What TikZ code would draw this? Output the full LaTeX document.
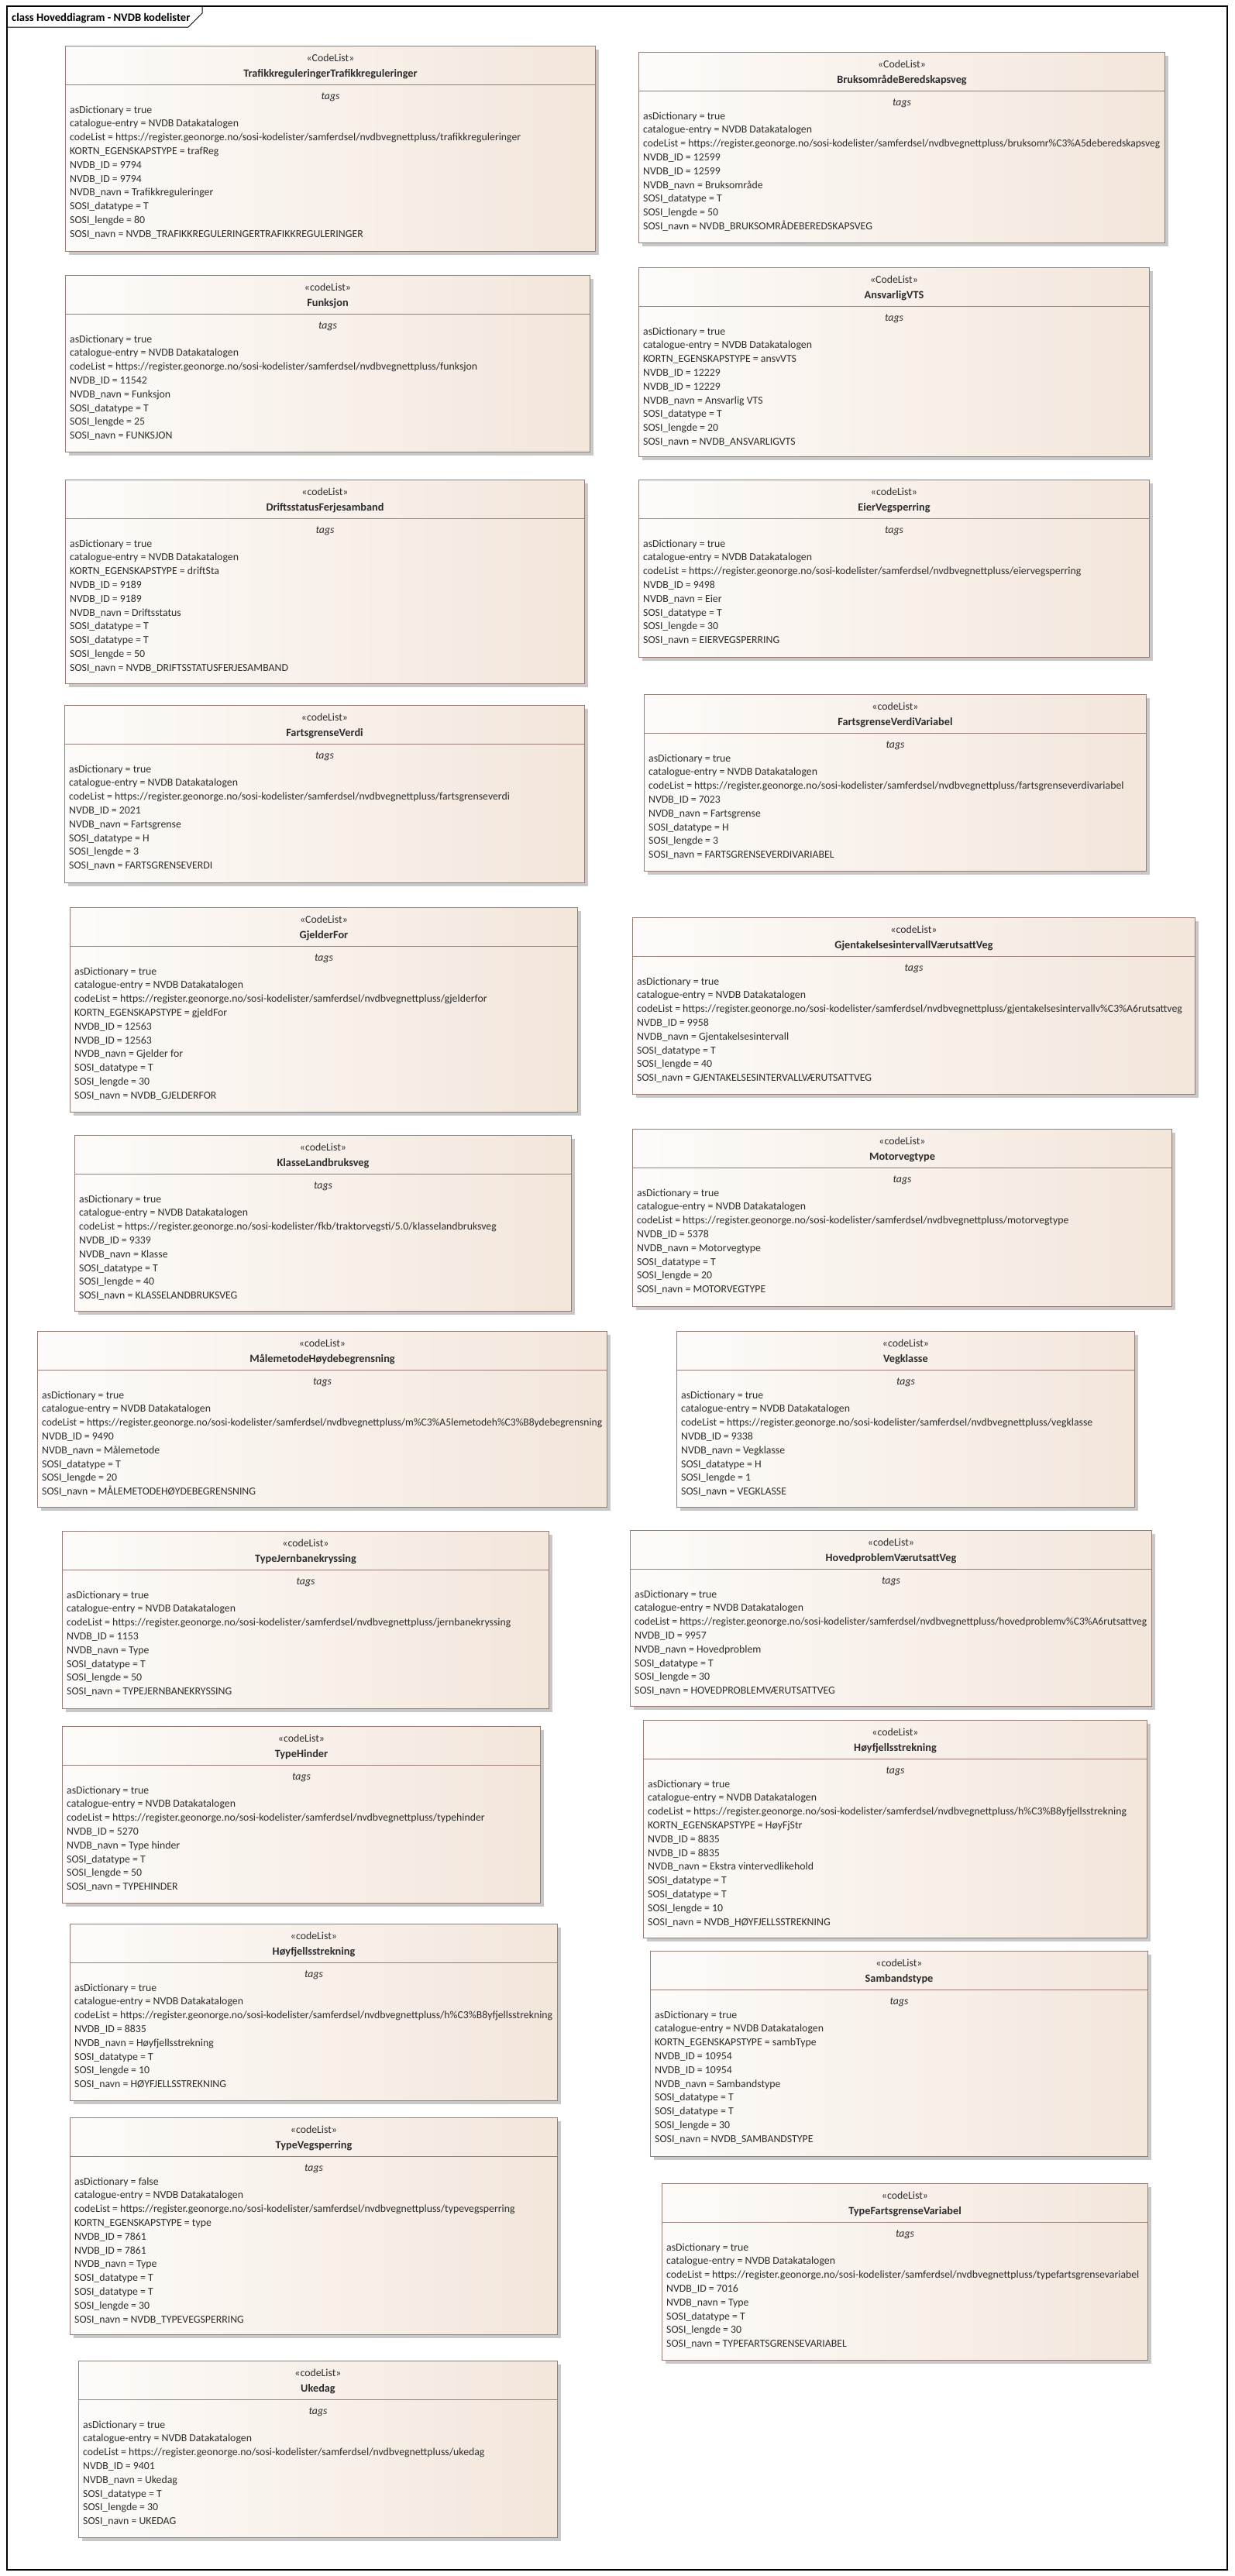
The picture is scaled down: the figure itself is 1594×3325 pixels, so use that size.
\documentclass[tikz,border=0pt]{standalone}
\usepackage{fontspec}
\setmainfont{Carlito}
\usepackage{graphicx}
\usetikzlibrary{shadows,calc}
\definecolor{boxL}{RGB}{253,251,249}
\definecolor{boxR}{RGB}{243,230,219}
\definecolor{boxline}{RGB}{150,125,120}
\definecolor{shadowc}{RGB}{200,200,200}
\definecolor{txt}{RGB}{45,45,45}
\newsavebox\attrbox
\newlength\availw
\newcommand\fitline[1]{\sbox\attrbox{#1}\ifdim\wd\attrbox>\availw\resizebox{\availw}{\height}{\usebox\attrbox}\else\usebox\attrbox\fi}
\tikzset{
 codebox/.style={draw=boxline, line width=1pt, left color=boxL, right color=boxR,
   drop shadow={shadow xshift=4pt, shadow yshift=-4pt, fill=shadowc, opacity=1},
   inner sep=0pt, anchor=north west},
 stereo/.style={anchor=base, inner sep=0pt, text=txt, font=\fontsize{13.8}{16}\selectfont},
 cltitle/.style={anchor=base, inner sep=0pt, text=txt, font=\bfseries\fontsize{14.3}{16}\selectfont},
 tagslabel/.style={anchor=base, inner sep=0pt, text=txt, font=\itshape\fontsize{13.8}{16}\selectfont},
 attr/.style={anchor=base west, inner sep=0pt, text=txt, font=\fontsize{13.8}{16}\selectfont},
 divline/.style={draw=boxline, line width=1pt},
}
\newcommand\codelistbox[8]{%
  \pgfmathsetlength\availw{#3-#2-12}%
  \node[codebox, minimum width={(#3-#2)*1pt}, minimum height={(#5-#4)*1pt}] (#1) at (#2,#4) {};
  \draw[divline] ([yshift=-50pt]#1.north west) -- ([yshift=-50pt]#1.north east);
  \node[stereo] (#1-st) at ([yshift=-20pt]#1.north) {«#6»};
  \node[cltitle] (#1-nm) at ([yshift=-40pt]#1.north) {#7};
  \node[tagslabel] (#1-tg) at ([yshift=-69pt]#1.north) {tags};
  \foreach \attrline [count=\i] in {#8} {
    \node[attr] (#1-l\i) at ([xshift=6pt, yshift={-(87+(\i-1)*17.8)*1pt}]#1.north west) {\fitline{\attrline}};
  }%
}
\begin{document}
\begin{tikzpicture}[x=1pt, y=-1pt]
\useasboundingbox (0,0) rectangle (1594,3325);
\fill[white] (0,0) rectangle (1594,3325);
\draw[line width=1.2pt] (9,8) rectangle (1584,3317);
\draw[line width=1pt] (9,35) -- (243,35) -- (261,17) -- (261,8);
\node[anchor=base west, inner sep=0pt, font=\bfseries\fontsize{14.6}{16}\selectfont] (frametitle) at (15,27) {class Hoveddiagram - NVDB kodelister};

% left column
\codelistbox{tr}{84}{768}{59}{324}{CodeList}{TrafikkreguleringerTrafikkreguleringer}{asDictionary = true, catalogue-entry = NVDB Datakatalogen, codeList = https://register.geonorge.no/sosi-kodelister/samferdsel/nvdbvegnettpluss/trafikkreguleringer, KORTN\_EGENSKAPSTYPE = trafReg, NVDB\_ID = 9794, NVDB\_ID = 9794, NVDB\_navn = Trafikkreguleringer, SOSI\_datatype = T, SOSI\_lengde = 80, SOSI\_navn = NVDB\_TRAFIKKREGULERINGERTRAFIKKREGULERINGER}

\codelistbox{fu}{84}{761}{355}{583}{codeList}{Funksjon}{asDictionary = true, catalogue-entry = NVDB Datakatalogen, codeList = https://register.geonorge.no/sosi-kodelister/samferdsel/nvdbvegnettpluss/funksjon, NVDB\_ID = 11542, NVDB\_navn = Funksjon, SOSI\_datatype = T, SOSI\_lengde = 25, SOSI\_navn = FUNKSJON}

\codelistbox{dr}{84}{754}{619}{882}{codeList}{DriftsstatusFerjesamband}{asDictionary = true, catalogue-entry = NVDB Datakatalogen, KORTN\_EGENSKAPSTYPE = driftSta, NVDB\_ID = 9189, NVDB\_ID = 9189, NVDB\_navn = Driftsstatus, SOSI\_datatype = T, SOSI\_datatype = T, SOSI\_lengde = 50, SOSI\_navn = NVDB\_DRIFTSSTATUSFERJESAMBAND}

\codelistbox{fv}{83}{754}{910}{1139}{codeList}{FartsgrenseVerdi}{asDictionary = true, catalogue-entry = NVDB Datakatalogen, codeList = https://register.geonorge.no/sosi-kodelister/samferdsel/nvdbvegnettpluss/fartsgrenseverdi, NVDB\_ID = 2021, NVDB\_navn = Fartsgrense, SOSI\_datatype = H, SOSI\_lengde = 3, SOSI\_navn = FARTSGRENSEVERDI}

\codelistbox{gf}{90}{745}{1171}{1435}{CodeList}{GjelderFor}{asDictionary = true, catalogue-entry = NVDB Datakatalogen, codeList = https://register.geonorge.no/sosi-kodelister/samferdsel/nvdbvegnettpluss/gjelderfor, KORTN\_EGENSKAPSTYPE = gjeldFor, NVDB\_ID = 12563, NVDB\_ID = 12563, NVDB\_navn = Gjelder for, SOSI\_datatype = T, SOSI\_lengde = 30, SOSI\_navn = NVDB\_GJELDERFOR}

\codelistbox{kl}{96}{737}{1465}{1692}{codeList}{KlasseLandbruksveg}{asDictionary = true, catalogue-entry = NVDB Datakatalogen, codeList = https://register.geonorge.no/sosi-kodelister/fkb/traktorvegsti/5.0/klasselandbruksveg, NVDB\_ID = 9339, NVDB\_navn = Klasse, SOSI\_datatype = T, SOSI\_lengde = 40, SOSI\_navn = KLASSELANDBRUKSVEG}

\codelistbox{mh}{48}{783}{1718}{1945}{codeList}{MålemetodeHøydebegrensning}{asDictionary = true, catalogue-entry = NVDB Datakatalogen, codeList = https://register.geonorge.no/sosi-kodelister/samferdsel/nvdbvegnettpluss/m\%C3\%A5lemetodeh\%C3\%B8ydebegrensning, NVDB\_ID = 9490, NVDB\_navn = Målemetode, SOSI\_datatype = T, SOSI\_lengde = 20, SOSI\_navn = MÅLEMETODEHØYDEBEGRENSNING}

\codelistbox{tj}{80}{708}{1976}{2205}{codeList}{TypeJernbanekryssing}{asDictionary = true, catalogue-entry = NVDB Datakatalogen, codeList = https://register.geonorge.no/sosi-kodelister/samferdsel/nvdbvegnettpluss/jernbanekryssing, NVDB\_ID = 1153, NVDB\_navn = Type, SOSI\_datatype = T, SOSI\_lengde = 50, SOSI\_navn = TYPEJERNBANEKRYSSING}

\codelistbox{th}{80}{697}{2228}{2456}{codeList}{TypeHinder}{asDictionary = true, catalogue-entry = NVDB Datakatalogen, codeList = https://register.geonorge.no/sosi-kodelister/samferdsel/nvdbvegnettpluss/typehinder, NVDB\_ID = 5270, NVDB\_navn = Type hinder, SOSI\_datatype = T, SOSI\_lengde = 50, SOSI\_navn = TYPEHINDER}

\codelistbox{hl}{90}{719}{2483}{2711}{codeList}{Høyfjellsstrekning}{asDictionary = true, catalogue-entry = NVDB Datakatalogen, codeList = https://register.geonorge.no/sosi-kodelister/samferdsel/nvdbvegnettpluss/h\%C3\%B8yfjellsstrekning, NVDB\_ID = 8835, NVDB\_navn = Høyfjellsstrekning, SOSI\_datatype = T, SOSI\_lengde = 10, SOSI\_navn = HØYFJELLSSTREKNING}

\codelistbox{tv}{90}{719}{2733}{3013}{codeList}{TypeVegsperring}{asDictionary = false, catalogue-entry = NVDB Datakatalogen, codeList = https://register.geonorge.no/sosi-kodelister/samferdsel/nvdbvegnettpluss/typevegsperring, KORTN\_EGENSKAPSTYPE = type, NVDB\_ID = 7861, NVDB\_ID = 7861, NVDB\_navn = Type, SOSI\_datatype = T, SOSI\_datatype = T, SOSI\_lengde = 30, SOSI\_navn = NVDB\_TYPEVEGSPERRING}

\codelistbox{uk}{101}{719}{3047}{3275}{codeList}{Ukedag}{asDictionary = true, catalogue-entry = NVDB Datakatalogen, codeList = https://register.geonorge.no/sosi-kodelister/samferdsel/nvdbvegnettpluss/ukedag, NVDB\_ID = 9401, NVDB\_navn = Ukedag, SOSI\_datatype = T, SOSI\_lengde = 30, SOSI\_navn = UKEDAG}

% right column
\codelistbox{br}{824}{1503}{67}{313}{CodeList}{BruksområdeBeredskapsveg}{asDictionary = true, catalogue-entry = NVDB Datakatalogen, codeList = https://register.geonorge.no/sosi-kodelister/samferdsel/nvdbvegnettpluss/bruksomr\%C3\%A5deberedskapsveg, NVDB\_ID = 12599, NVDB\_ID = 12599, NVDB\_navn = Bruksområde, SOSI\_datatype = T, SOSI\_lengde = 50, SOSI\_navn = NVDB\_BRUKSOMRÅDEBEREDSKAPSVEG}

\codelistbox{av}{824}{1483}{345}{589}{CodeList}{AnsvarligVTS}{asDictionary = true, catalogue-entry = NVDB Datakatalogen, KORTN\_EGENSKAPSTYPE = ansvVTS, NVDB\_ID = 12229, NVDB\_ID = 12229, NVDB\_navn = Ansvarlig VTS, SOSI\_datatype = T, SOSI\_lengde = 20, SOSI\_navn = NVDB\_ANSVARLIGVTS}

\codelistbox{ei}{824}{1483}{619}{848}{codeList}{EierVegsperring}{asDictionary = true, catalogue-entry = NVDB Datakatalogen, codeList = https://register.geonorge.no/sosi-kodelister/samferdsel/nvdbvegnettpluss/eiervegsperring, NVDB\_ID = 9498, NVDB\_navn = Eier, SOSI\_datatype = T, SOSI\_lengde = 30, SOSI\_navn = EIERVEGSPERRING}

\codelistbox{fw}{831}{1479}{896}{1124}{codeList}{FartsgrenseVerdiVariabel}{asDictionary = true, catalogue-entry = NVDB Datakatalogen, codeList = https://register.geonorge.no/sosi-kodelister/samferdsel/nvdbvegnettpluss/fartsgrenseverdivariabel, NVDB\_ID = 7023, NVDB\_navn = Fartsgrense, SOSI\_datatype = H, SOSI\_lengde = 3, SOSI\_navn = FARTSGRENSEVERDIVARIABEL}

\codelistbox{gj}{816}{1542}{1184}{1412}{codeList}{GjentakelsesintervallVærutsattVeg}{asDictionary = true, catalogue-entry = NVDB Datakatalogen, codeList = https://register.geonorge.no/sosi-kodelister/samferdsel/nvdbvegnettpluss/gjentakelsesintervallv\%C3\%A6rutsattveg, NVDB\_ID = 9958, NVDB\_navn = Gjentakelsesintervall, SOSI\_datatype = T, SOSI\_lengde = 40, SOSI\_navn = GJENTAKELSESINTERVALLVÆRUTSATTVEG}

\codelistbox{mv}{816}{1512}{1457}{1686}{codeList}{Motorvegtype}{asDictionary = true, catalogue-entry = NVDB Datakatalogen, codeList = https://register.geonorge.no/sosi-kodelister/samferdsel/nvdbvegnettpluss/motorvegtype, NVDB\_ID = 5378, NVDB\_navn = Motorvegtype, SOSI\_datatype = T, SOSI\_lengde = 20, SOSI\_navn = MOTORVEGTYPE}

\codelistbox{vk}{873}{1464}{1718}{1945}{codeList}{Vegklasse}{asDictionary = true, catalogue-entry = NVDB Datakatalogen, codeList = https://register.geonorge.no/sosi-kodelister/samferdsel/nvdbvegnettpluss/vegklasse, NVDB\_ID = 9338, NVDB\_navn = Vegklasse, SOSI\_datatype = H, SOSI\_lengde = 1, SOSI\_navn = VEGKLASSE}

\codelistbox{hp}{813}{1486}{1975}{2202}{codeList}{HovedproblemVærutsattVeg}{asDictionary = true, catalogue-entry = NVDB Datakatalogen, codeList = https://register.geonorge.no/sosi-kodelister/samferdsel/nvdbvegnettpluss/hovedproblemv\%C3\%A6rutsattveg, NVDB\_ID = 9957, NVDB\_navn = Hovedproblem, SOSI\_datatype = T, SOSI\_lengde = 30, SOSI\_navn = HOVEDPROBLEMVÆRUTSATTVEG}

\codelistbox{hr}{830}{1480}{2220}{2501}{codeList}{Høyfjellsstrekning}{asDictionary = true, catalogue-entry = NVDB Datakatalogen, codeList = https://register.geonorge.no/sosi-kodelister/samferdsel/nvdbvegnettpluss/h\%C3\%B8yfjellsstrekning, KORTN\_EGENSKAPSTYPE = HøyFjStr, NVDB\_ID = 8835, NVDB\_ID = 8835, NVDB\_navn = Ekstra vintervedlikehold, SOSI\_datatype = T, SOSI\_datatype = T, SOSI\_lengde = 10, SOSI\_navn = NVDB\_HØYFJELLSSTREKNING}

\codelistbox{sb}{839}{1481}{2518}{2783}{codeList}{Sambandstype}{asDictionary = true, catalogue-entry = NVDB Datakatalogen, KORTN\_EGENSKAPSTYPE = sambType, NVDB\_ID = 10954, NVDB\_ID = 10954, NVDB\_navn = Sambandstype, SOSI\_datatype = T, SOSI\_datatype = T, SOSI\_lengde = 30, SOSI\_navn = NVDB\_SAMBANDSTYPE}

\codelistbox{tf}{854}{1481}{2818}{3046}{codeList}{TypeFartsgrenseVariabel}{asDictionary = true, catalogue-entry = NVDB Datakatalogen, codeList = https://register.geonorge.no/sosi-kodelister/samferdsel/nvdbvegnettpluss/typefartsgrensevariabel, NVDB\_ID = 7016, NVDB\_navn = Type, SOSI\_datatype = T, SOSI\_lengde = 30, SOSI\_navn = TYPEFARTSGRENSEVARIABEL}
\end{tikzpicture}
\end{document}
